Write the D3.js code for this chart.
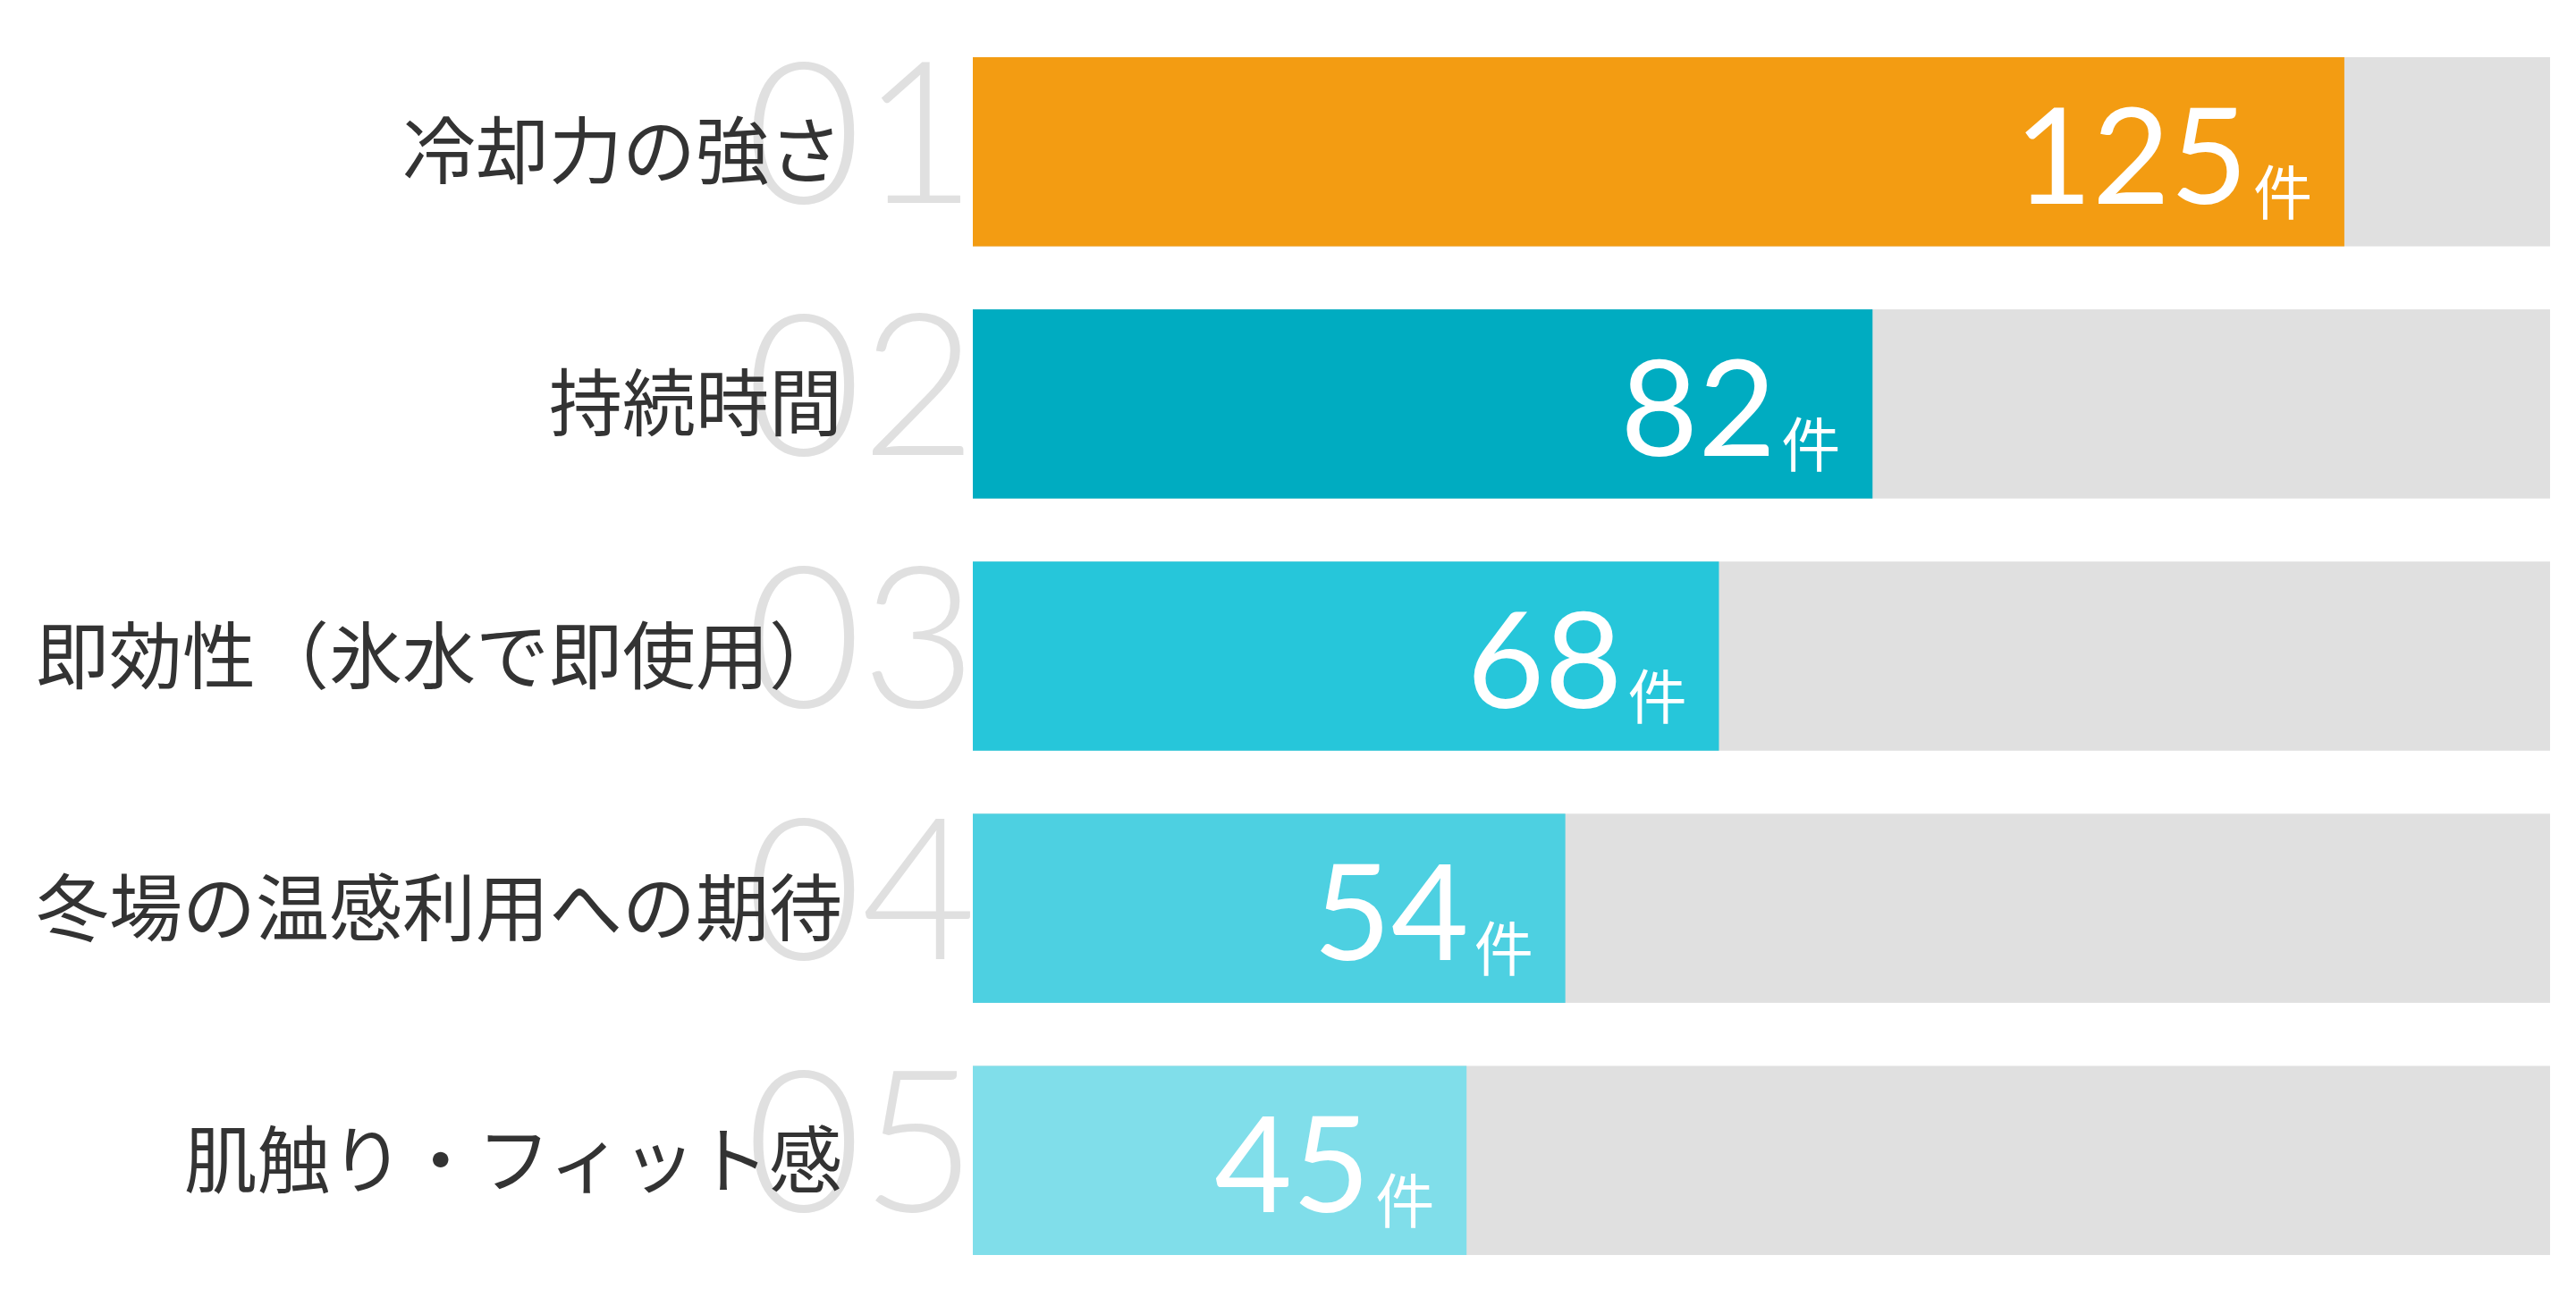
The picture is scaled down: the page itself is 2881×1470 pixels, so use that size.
<!DOCTYPE html>
<html>
<head>
<meta charset="utf-8">
<script src="https://cdn.jsdelivr.net/npm/d3@7"></script>
<style>
  body { margin: 0; background: #fff; }
  svg { display: block; }
</style>
</head>
<body>
<div id="chart"></div>
<script>
// data
const categories = ["冷却力の強さ", "持続時間", "即効性（氷水で即使用）", "冬場の温感利用への期待", "肌触り・フィット感"];
const counts = [125, 82, 68, 54, 45];
const ranks = ["01", "02", "03", "04", "05"];
const unit = "件";
const barColors = ["#F39C12", "#00ACC1", "#26C6DA", "#4DD0E1", "#80DEEA"];

const width = 2881, height = 1470;
const barLeft = 1088, barRight = 2852;

const svg = d3.select("#chart")
  .append("svg")
  .attr("width", width)
  .attr("height", height);

const y = d3.scaleBand()
  .domain(categories)
  .range([64, 1404])
  .paddingInner(0.25)
  .paddingOuter(0);

// background track = max * 1.15
const x = d3.scaleLinear()
  .domain([0, d3.max(counts) * 1.15])
  .range([barLeft, barRight]);

const rows = categories.map((c, i) => ({ cat: c, value: counts[i], rank: ranks[i], color: barColors[i] }));

const g = svg.selectAll(".row")
  .data(rows)
  .enter().append("g")
  .attr("class", "row");

// big faded rank numbers (drawn first so labels sit over them)
g.append("text")
  .attr("x", barLeft + 4)
  .attr("y", d => y(d.cat) + y.bandwidth() / 2 + 57)
  .attr("text-anchor", "end")
  .attr("font-family", "Lato, 'Noto Sans', sans-serif")
  .attr("font-weight", 300)
  .attr("font-size", 222)
  .attr("fill", "#E0E0E0")
  .text(d => d.rank);

// category labels
g.append("text")
  .attr("x", 942)
  .attr("y", d => y(d.cat) + y.bandwidth() / 2 - 6)
  .attr("text-anchor", "end")
  .attr("dominant-baseline", "central")
  .attr("font-family", "'Noto Sans CJK JP', sans-serif")
  .attr("font-size", 82)
  .attr("fill", "#333333")
  .text(d => d.cat);

// grey track
g.append("rect")
  .attr("x", x(0))
  .attr("y", d => y(d.cat))
  .attr("width", x.range()[1] - x(0))
  .attr("height", y.bandwidth())
  .attr("fill", "#E0E0E0");

// value bar
g.append("rect")
  .attr("x", x(0))
  .attr("y", d => y(d.cat))
  .attr("width", d => x(d.value) - x(0))
  .attr("height", y.bandwidth())
  .attr("fill", d => d.color);

// value label inside bar end
const val = g.append("text")
  .attr("x", d => x(d.value) - 36)
  .attr("y", d => y(d.cat) + y.bandwidth() / 2 + 58)
  .attr("text-anchor", "end")
  .attr("fill", "#ffffff");

val.append("tspan")
  .attr("font-family", "Lato, 'Noto Sans', sans-serif")
  .attr("font-size", 150)
  .text(d => d.value);

val.append("tspan")
  .attr("dx", 6)
  .attr("dy", 12)
  .attr("font-family", "'Noto Sans CJK JP', sans-serif")
  .attr("font-size", 66)
  .text(unit);
</script>
</body>
</html>
